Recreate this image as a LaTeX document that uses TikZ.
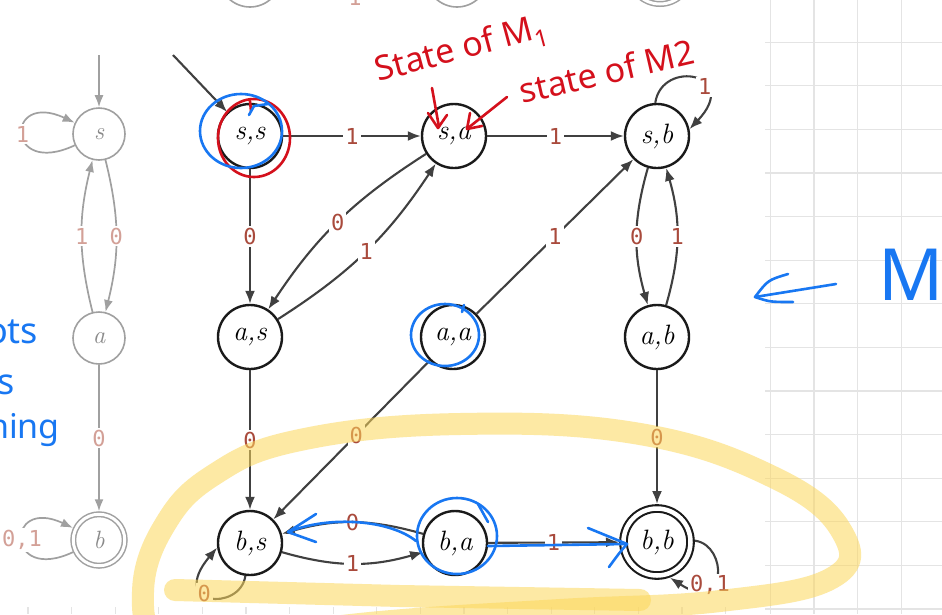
\documentclass[tikz,border=0pt]{standalone}
\usepackage{fontspec}
\usetikzlibrary{arrows.meta}
\newfontfamily\labfont{DejaVu Sans Mono}
\newfontfamily\handfont{Noto Sans}
\definecolor{edgec}{HTML}{404040}
\definecolor{nodec}{HTML}{1A1A1A}
\definecolor{labc}{HTML}{A94A3C}
\definecolor{fadec}{HTML}{A0A0A0}
\definecolor{fadetxt}{HTML}{8A8A8A}
\definecolor{fadelab}{HTML}{D3A097}
\definecolor{gridc}{HTML}{E4E4E4}
\definecolor{annred}{HTML}{D4101C}
\definecolor{annblue}{HTML}{1877F2}
\definecolor{hiyel}{HTML}{FCD75A}
\begin{document}
\begin{tikzpicture}[x=1pt,y=-1pt,
  mst/.style={circle,draw=nodec,line width=2.4pt,minimum size=64pt,inner sep=0pt,
    font=\fontsize{28}{32}\selectfont\itshape},
  macc/.style={mst,double=white,double distance=4.5pt,line width=2.1pt,minimum size=67pt,outer sep=4.5pt},
  fst/.style={circle,draw=fadec,line width=1.6pt,minimum size=52pt,inner sep=0pt,text=fadetxt,
    font=\fontsize{25}{28}\selectfont\itshape},
  facc/.style={fst,double=white,double distance=3pt,line width=1.5pt,minimum size=51.5pt,outer sep=3pt},
  tr/.style={draw=edgec,line width=2.1pt,-{Latex[length=13pt,width=10pt]}},
  ftr/.style={draw=fadec,line width=1.7pt,-{Latex[length=12pt,width=9pt]}},
  lab/.style={fill=white,inner sep=2pt,text=labc,font=\labfont\fontsize{22}{22}\selectfont},
  flab/.style={lab,text=fadelab},
  hand/.style={font=\handfont\fontsize{34}{34}\selectfont,inner sep=0pt},
  pen/.style={line width=2.6pt,line cap=round,line join=round},
  hilite/.style={draw=hiyel,draw opacity=0.55,line width=22pt,line cap=round,line join=round}
]
\useasboundingbox (0,0) rectangle (942,614);
\clip (0,0) rectangle (942,614);
\fill[white] (0,0) rectangle (942,614);
% grid paper
\foreach \k in {0,...,3} \draw[gridc,line width=1.3pt] ({770.4+43.6*\k},0) -- ({770.4+43.6*\k},614);
\foreach \k in {0,...,13} \draw[gridc,line width=1.3pt] (765,{42.2+43.6*\k}) -- (942,{42.2+43.6*\k});
\foreach \k in {0,...,16} \draw[gridc,line width=1.3pt] ({28+43.6*\k},607) -- ({28+43.6*\k},614);

% partial nodes at the top
\node[fst,minimum size=62pt] (T1) at (250,-24) {};
\node[fst,minimum size=62pt] (T2) at (457,-24) {};
\node[facc,minimum size=62pt] (T3) at (660,-27) {};
\node[flab] (T4) at (355,-3) {1};

% faded automaton
\node[fst] (Ls) at (99,134) {s};
\node[fst] (La) at (99,338) {a};
\node[facc] (Lb) at (99,540) {b};
\coordinate (st1) at (99,55);
\draw[ftr] (st1) -- (Ls);
\draw[ftr] (Ls.205) .. controls (5,178) and (5,90) .. node[flab]{1} (Ls.155);
\draw[ftr] (Ls) to[bend left=14] node[flab]{0} (La);
\draw[ftr] (La) to[bend left=14] node[flab]{1} (Ls);
\draw[ftr] (La) -- node[flab]{0} (Lb);
\draw[ftr] (Lb.205) .. controls (5,584) and (5,496) .. node[flab]{0,1} (Lb.155);

% product automaton
\node[mst] (ss) at (250,136) {s,s};
\node[mst] (sa) at (454,136) {s,a};
\node[mst] (sb) at (657,136) {s,b};
\node[mst] (as) at (250,337) {a,s};
\node[mst] (aa) at (453,337) {a,a};
\node[mst] (ab) at (657,337) {a,b};
\node[mst] (bs) at (250,543) {b,s};
\node[mst] (ba) at (455,543) {b,a};
\node[macc] (bb) at (657,542) {b,b};
\coordinate (st0) at (173,55);
\draw[tr] (st0) -- (ss);
\draw[tr] (ss) -- node[lab]{1} (sa);
\draw[tr] (sa) -- node[lab]{1} (sb);
\draw[tr] (sb.93) .. controls (662,58) and (742,74) .. node[lab,pos=0.65]{1} (sb.12);
\draw[tr] (ss) -- node[lab]{0} (as);
\draw[tr] (sa) to[bend right=12] node[lab]{0} (as);
\draw[tr] (as) to[bend right=12] node[lab]{1} (sa);
\draw[tr] (aa) -- node[lab]{1} (sb);
\draw[tr] (sb) to[bend right=16] node[lab]{0} (ab);
\draw[tr] (ab) to[bend right=16] node[lab]{1} (sb);
\draw[tr] (as) -- node[lab]{0} (bs);
\draw[tr] (aa) -- node[lab,pos=0.47]{0} (bs);
\draw[tr] (ab) -- node[lab]{0} (bb);
\draw[tr] (bs.-98) .. controls (240,612) and (168,606) .. node[lab,pos=0.6]{0} (bs.188);
\draw[tr] (bs) to[bend right=16] node[lab]{1} (ba);
\draw[tr] (ba) to[bend right=16] node[lab]{0} (bs);
\draw[tr] (ba) -- node[lab]{1} (bb);
\draw[tr] (bb.2) .. controls (728,545) and (728,615) .. node[lab,pos=0.66]{0,1} (bb.-70);

% red annotations
\draw[annred,pen] (254,138) ellipse [x radius=36, y radius=39];
\draw[annred,pen] (250,101) -- (251,111);
\node[hand,text=annred,rotate=15,anchor=base west] (rt1) at (378,82) {State of M\textsubscript{1}};
\node[hand,text=annred,rotate=13,anchor=base west] (rt2) at (522,104) {state of M2};
\draw[annred,pen] (432,88) -- (439,127);
\draw[annred,pen] (428,113) -- (438,128) -- (447,115);
\draw[annred,pen] (507,97) -- (468,128);
\draw[annred,pen] (470,113) -- (467,129) -- (482,126);

% blue annotations
\draw[annblue,pen] (241,131) ellipse [x radius=41, y radius=37];
\draw[annblue,pen] (249,115) -- (254,106) -- (268,104);
\draw[annblue,pen] (445,335) ellipse [x radius=34, y radius=31];
\draw[annblue,pen] (462,312) -- (464,305);
\draw[annblue,pen] (457,536) ellipse [x radius=40, y radius=38];
\draw[annblue,pen] (478,504) -- (488,522);
\draw[annblue,pen] (416,541) .. controls (390,520) and (330,515) .. (288,532);
\draw[annblue,pen] (316,514) -- (288,532) -- (316,542);
\draw[annblue,pen] (488,546) -- (627,544);
\draw[annblue,pen] (588,528) -- (627,544) .. controls (620,552) .. (609,567);
\draw[annblue,pen] (836,284) -- (755,297);
\draw[annblue,pen] (788,274) .. controls (768,280) .. (755,297) .. controls (770,302) .. (793,302);
\node[hand,text=annblue,font=\handfont\fontsize{72}{72}\selectfont,anchor=base west] (bm) at (878,300) {M};
\node[hand,text=annblue,font=\handfont\fontsize{36}{36}\selectfont,anchor=base west] (bt1) at (-14,343) {ots};
\node[hand,text=annblue,font=\handfont\fontsize{36}{36}\selectfont,anchor=base west] (bt2) at (-3,394) {s};
\node[hand,text=annblue,font=\handfont\fontsize{34}{34}\selectfont,anchor=base west] (bt3) at (-12,438) {hing};

% yellow highlighter
\draw[hilite] plot[smooth cycle,tension=0.7] coordinates {(460,424) (640,434) (775,478) (842,532) (832,578) (720,601) (560,610) (380,622) (230,640) (160,640) (143,592) (163,528) (212,476) (300,440)};
\draw[hilite] (175,590) -- (400,596) -- (640,600);
\end{tikzpicture}
\end{document}
